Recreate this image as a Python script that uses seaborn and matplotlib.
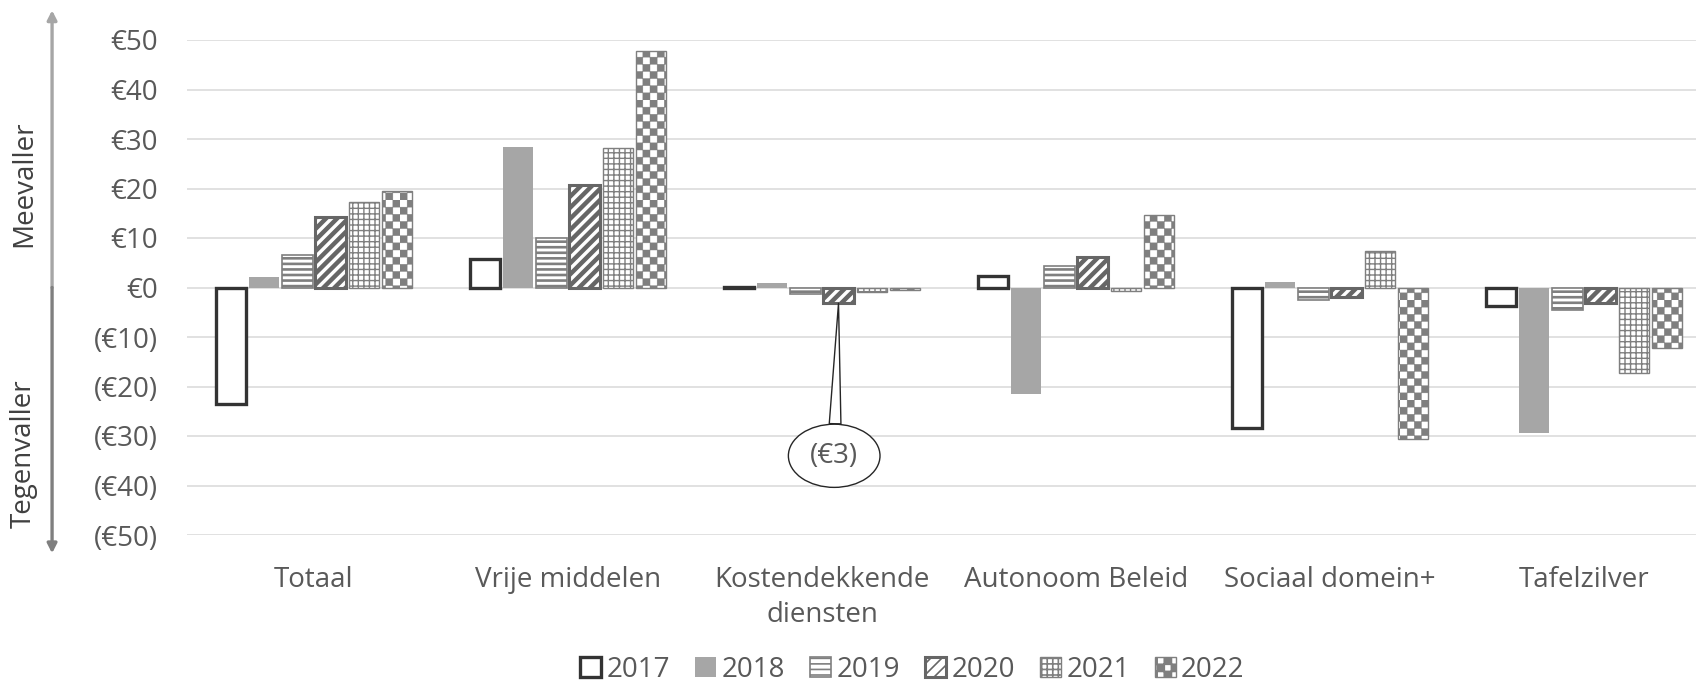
import matplotlib
matplotlib.use("Agg")  # sin GUI
import matplotlib.pyplot as plt
import matplotlib.hatch as mhatch
import matplotlib.transforms as mtransforms
from matplotlib.path import Path
from matplotlib.ticker import FuncFormatter
import numpy as np
import pandas as pd
import seaborn as sns

# data
categories = ["Totaal", "Vrije middelen", "Kostendekkende\ndiensten",
              "Autonoom Beleid", "Sociaal domein+", "Tafelzilver"]
years = ["2017", "2018", "2019", "2020", "2021", "2022"]
v2017 = [-23.6, 5.7, 0.2, 2.4, -28.4, -3.8]
v2018 = [2.2, 28.4, 0.9, -21.5, 1.1, -29.4]
v2019 = [6.5, 10.1, -1.3, 4.4, -2.5, -4.6]
v2020 = [14.2, 20.8, -3.2, 6.1, -1.9, -3.1]
v2021 = [17.3, 28.2, -1.0, -0.7, 7.3, -17.3]
v2022 = [19.5, 47.7, -0.5, 14.7, -30.6, -12.2]
y_ticks = [-50, -40, -30, -20, -10, 0, 10, 20, 30, 40, 50]

values = {"2017": v2017, "2018": v2018, "2019": v2019,
          "2020": v2020, "2021": v2021, "2022": v2022}
df = pd.DataFrame([(c, y, values[y][i]) for y in years for i, c in enumerate(categories)],
                  columns=["cat", "year", "val"])


# checkerboard hatch: takes the place of the '*' pattern
class CheckerHatch(mhatch.HatchPatternBase):
    def __init__(self, hatch, density):
        self.n = hatch.count("*") * 14
        self.num_vertices = (self.n * self.n // 2) * 5 if self.n else 0

    def set_vertices_and_codes(self, vertices, codes):
        n = self.n
        k = 0
        for i in range(n):
            for j in range(n):
                if (i + j) % 2:
                    continue
                x0, y0, x1, y1 = i / n, j / n, (i + 1) / n, (j + 1) / n
                vertices[k:k + 5] = [(x0, y0), (x1, y0), (x1, y1), (x0, y1), (x0, y0)]
                codes[k:k + 5] = [Path.MOVETO, Path.LINETO, Path.LINETO, Path.LINETO, Path.CLOSEPOLY]
                k += 5


mhatch._hatch_types = [t for t in mhatch._hatch_types if t is not mhatch.Stars] + [CheckerHatch]

sns.set_style("white")
plt.rcParams["font.family"] = ["Open Sans", "DejaVu Sans"]
plt.rcParams["hatch.linewidth"] = 1.2

txt = "#595959"
fs = 20

fig = plt.figure(figsize=(16.96, 6.85), dpi=100)
ax = fig.add_axes([187 / 1696, 150 / 685, 1509 / 1696, 495 / 685])

sns.barplot(data=df, x="cat", y="val", hue="year", order=categories, hue_order=years,
            width=0.78, gap=0.09, errorbar=None, legend=False, ax=ax)

styles = {
    "2017": dict(fc="white", ec="#333333", lw=2.4, hatch=None, hlw=1.0),
    "2018": dict(fc="#a6a6a6", ec="#a6a6a6", lw=0, hatch=None, hlw=1.0),
    "2019": dict(fc="white", ec="#7f7f7f", lw=1.2, hatch="---", hlw=1.9),
    "2020": dict(fc="white", ec="#666666", lw=2.2, hatch="///", hlw=3.2),
    "2021": dict(fc="white", ec="#7f7f7f", lw=1.0, hatch="+++", hlw=1.0),
    "2022": dict(fc="white", ec="#7f7f7f", lw=1.0, hatch="*", hlw=0.3),
}
for cont, yr in zip(ax.containers, years):
    st = styles[yr]
    for p in cont.patches:
        p.set_facecolor(st["fc"])
        p.set_edgecolor(st["ec"])
        p.set_linewidth(st["lw"])
        p.set_hatch(st["hatch"])
        if hasattr(p, "set_hatch_linewidth"):
            p.set_hatch_linewidth(st["hlw"])

ax.set_xlim(-0.5, -0.5 + 1509 / 254)
ax.set_ylim(-50, 50)
ax.set_yticks(y_ticks)
ax.yaxis.set_major_formatter(FuncFormatter(lambda v, pos: f"€{v:.0f}" if v >= 0 else f"(€{-v:.0f})"))
ax.yaxis.grid(True, color="#d9d9d9", lw=1.1)
ax.xaxis.grid(False)
ax.set_axisbelow(True)
for s in ax.spines.values():
    s.set_visible(False)
ax.set_xlabel("")
ax.set_ylabel("")
ax.tick_params(axis="both", length=0, labelsize=fs, labelcolor=txt)
ax.tick_params(axis="x", pad=22)
ax.tick_params(axis="y", pad=21)
for t in ax.get_xticklabels():
    t.set_linespacing(1.35)

# callout on the 2020 bar of Kostendekkende diensten
p = ax.containers[3].patches[2]
bx = p.get_x() + p.get_width() / 2
ax.annotate(f"(€{abs(v2020[2]):.0f})", xy=(bx, v2020[2]), xytext=(bx - 0.017, -34),
            ha="center", va="center", fontsize=fs, color=txt,
            bbox=dict(boxstyle="ellipse,pad=0.3", fc="white", ec="#262626", lw=1),
            arrowprops=dict(arrowstyle="wedge,tail_width=0.42", fc="white", ec="#262626",
                            lw=1, shrinkA=0, shrinkB=0))

# side arrows Meevaller / Tegenvaller
side = mtransforms.blended_transform_factory(fig.transFigure, ax.transData)
ax.annotate("", xy=(0.0307, 56), xytext=(0.0307, 0), xycoords=side, textcoords=side,
            arrowprops=dict(arrowstyle="-|>,head_length=0.55,head_width=0.28", color="#a6a6a6",
                            lw=2.4, shrinkA=0, shrinkB=0), annotation_clip=False)
ax.annotate("", xy=(0.0307, -53.7), xytext=(0.0307, 0), xycoords=side, textcoords=side,
            arrowprops=dict(arrowstyle="-|>,head_length=0.55,head_width=0.28", color="#7f7f7f",
                            lw=2.4, shrinkA=0, shrinkB=0), annotation_clip=False)
ax.text(0.0142, 21, "Meevaller", transform=side, rotation=90, ha="center", va="center",
        fontsize=fs, color="#404040", clip_on=False)
ax.text(0.0142, -33.5, "Tegenvaller", transform=side, rotation=90, ha="center", va="center",
        fontsize=fs, color="#404040", clip_on=False)

fig.legend(ax.containers, years, loc="center", bbox_to_anchor=(0.538, 0.022), ncol=6,
           frameon=False, fontsize=fs, labelcolor=txt, handlelength=0.75, handleheight=0.75,
           handletextpad=0.2, columnspacing=0.9)

fig.savefig("out.png", dpi=100)
plt.close(fig)
